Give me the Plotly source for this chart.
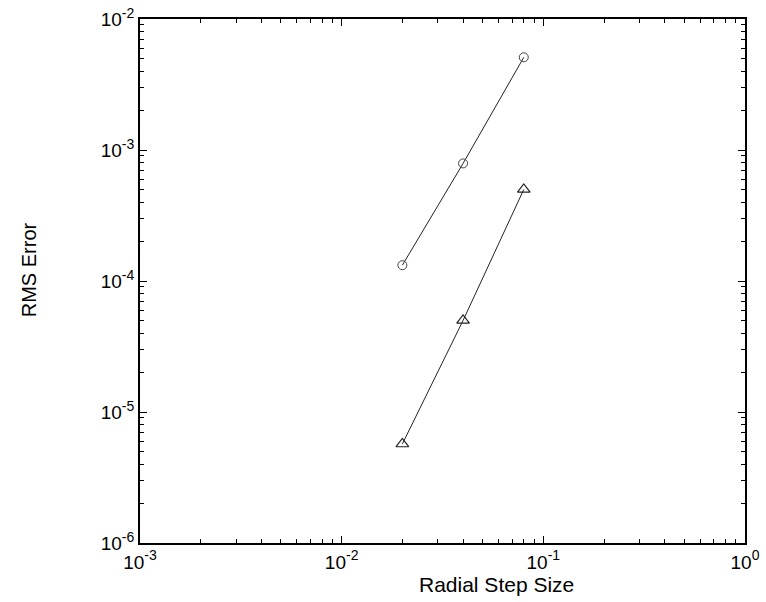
import plotly.graph_objects as go

step_size = [0.02, 0.04, 0.08]
rms_circle = [1.32e-4, 7.9e-4, 5.1e-3]
rms_triangle = [5.7e-6, 5.0e-5, 5.0e-4]

x_tickvals = [1e-3, 1e-2, 1e-1, 1]
x_exponents = ["-3", "-2", "-1", "0"]
y_tickvals = [1e-6, 1e-5, 1e-4, 1e-3, 1e-2]
y_exponents = ["-6", "-5", "-4", "-3", "-2"]


def power_labels(exps):
    return ["<span style='font-size:19px'>10</span><sup>%s</sup>" % e for e in exps]


def minor_vals(lo, hi):
    return [k * 10.0 ** d for d in range(lo, hi) for k in range(2, 10)]


FONT = "Liberation Sans, Arial, Helvetica, sans-serif"

fig = go.Figure()
fig.add_trace(go.Scatter(
    x=step_size, y=rms_circle, mode="lines+markers",
    line=dict(color="#222", width=1),
    marker=dict(symbol="circle-open", size=9, color="#444", line=dict(width=1)),
    showlegend=False))
fig.add_trace(go.Scatter(
    x=step_size, y=rms_triangle, mode="lines+markers",
    line=dict(color="#222", width=1),
    marker=dict(symbol="triangle-up-open", size=11, color="#222", line=dict(width=1.2)),
    showlegend=False))

axis_common = dict(
    type="log", showgrid=False, zeroline=False, automargin=False,
    showline=True, linecolor="black", linewidth=1.5, mirror="allticks",
    ticks="inside", ticklen=7, tickwidth=1, tickcolor="black",
    tickfont=dict(family=FONT, size=20, color="black"),
)

fig.update_xaxes(**axis_common, range=[-3, 0], tickmode="array", tickvals=x_tickvals,
                 ticktext=power_labels(x_exponents),
                 minor=dict(tickmode="array", tickvals=minor_vals(-3, 0), ticks="inside",
                            ticklen=4, tickwidth=1, tickcolor="black", showgrid=False))
fig.update_yaxes(**axis_common, range=[-6, -2], tickmode="array", tickvals=y_tickvals,
                 ticktext=power_labels(y_exponents),
                 minor=dict(tickmode="array", tickvals=minor_vals(-6, -2), ticks="inside",
                            ticklen=4, tickwidth=1, tickcolor="black", showgrid=False))

fig.update_layout(
    width=766, height=602,
    margin=dict(l=140, r=21, t=19, b=59),
    plot_bgcolor="white", paper_bgcolor="white",
    font=dict(family=FONT, color="black"),
    annotations=[
        dict(text="Radial Step Size", xref="paper", yref="paper", x=0.59, y=-0.08,
             xanchor="center", yanchor="middle", showarrow=False,
             font=dict(family=FONT, size=21, color="black")),
        dict(text="RMS Error", xref="paper", yref="paper", x=-0.183, y=0.521,
             xanchor="center", yanchor="middle", showarrow=False, textangle=-90,
             font=dict(family=FONT, size=20, color="black")),
    ],
)

fig.write_html("out.html")
